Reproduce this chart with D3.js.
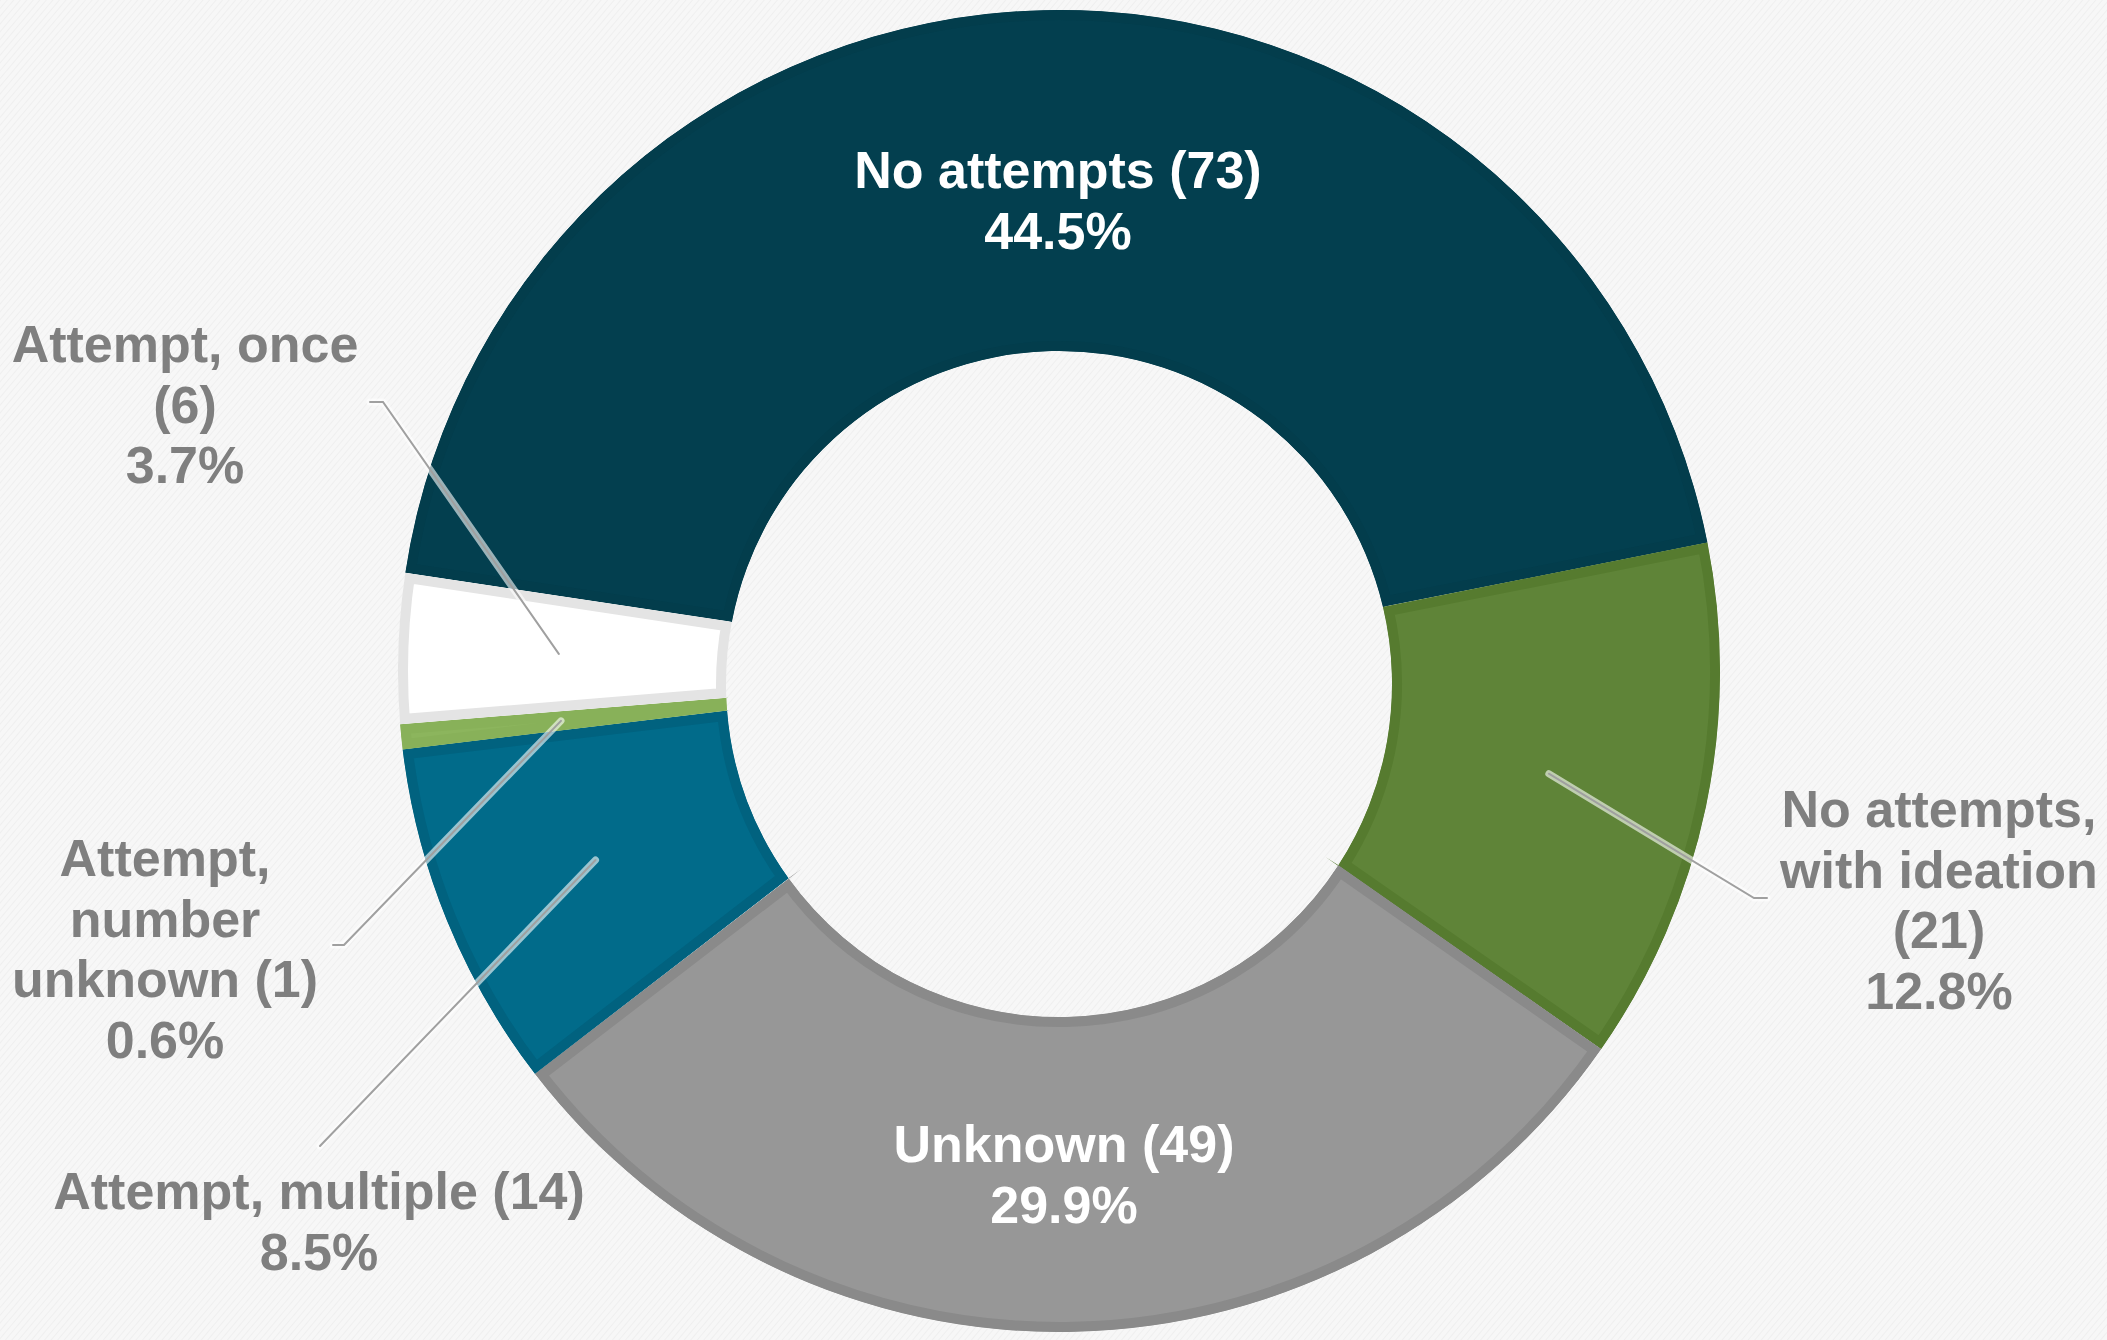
<!DOCTYPE html>
<html>
<head>
<meta charset="utf-8">
<script src="https://cdn.jsdelivr.net/npm/d3@7"></script>
<style>
  html, body { margin: 0; padding: 0; background: #f6f6f6; }
  svg { display: block; }
  text { font-family: "Liberation Sans", Arial, sans-serif; font-weight: bold; }
</style>
</head>
<body>
<div id="chart"></div>
<script>
// slices in drawing order (clockwise, starting at the "No attempts" slice)
const categories = ["No attempts", "No attempts, with ideation", "Unknown", "Attempt, multiple", "Attempt, number unknown", "Attempt, once"];
const counts = [73, 21, 49, 14, 1, 6];
const fills = ["#033f4f", "#5f8438", "#979797", "#016b8a", "#8cb55d", "#ffffff"];
const borders = ["#033d4c", "#567b2f", "#8a8a8a", "#01627f", "#88b159", "#e4e4e4"];

const width = 2107;
const height = 1340;
const cx = 1059, cy = 671, outerR = 661;
const holeDy = 13, innerR = 333;   // the hole sits a little lower than the ring centre

const total = d3.sum(counts);
const pct = d3.format(".1%");
const data = categories.map((name, i) => ({ name, count: counts[i], pct: pct(counts[i] / total), i }));

// label placement (first baseline, centre x) and leader lines
const labels = [
  { x: 1058, y: 188, color: "#fff", lines: d => [`${d.name} (${d.count})`, d.pct] },
  { x: 1939, y: 827, color: "#7f7f7f", lines: d => ["No attempts,", "with ideation", `(${d.count})`, d.pct], leader: [[1754, 898], [1767, 898]] },
  { x: 1064, y: 1162, color: "#fff", lines: d => [`${d.name} (${d.count})`, d.pct] },
  { x: 319, y: 1209, color: "#7f7f7f", lines: d => [`${d.name} (${d.count})`, d.pct], leader: [[320, 1146]] },
  { x: 165, y: 876, color: "#7f7f7f", lines: d => ["Attempt,", "number", `unknown (${d.count})`, d.pct], leader: [[344, 945], [333, 945]] },
  { x: 185, y: 362, color: "#7f7f7f", lines: d => ["Attempt, once", `(${d.count})`, d.pct], leader: [[383, 402], [370, 402]] }
];

const svg = d3.select("#chart")
  .append("svg")
  .attr("width", width)
  .attr("height", height);

const defs = svg.append("defs");

const hatch = defs.append("pattern")
  .attr("id", "hatch")
  .attr("patternUnits", "userSpaceOnUse")
  .attr("width", 5)
  .attr("height", 5)
  .attr("patternTransform", "rotate(40)");
hatch.append("rect").attr("width", 5).attr("height", 5).attr("fill", "#f7f7f7");
hatch.append("line").attr("x1", 0).attr("y1", 0).attr("x2", 0).attr("y2", 5)
  .attr("stroke", "#ebebeb").attr("stroke-width", 1.2);

svg.append("rect").attr("width", width).attr("height", height).attr("fill", "url(#hatch)");

const pie = d3.pie()
  .sort(null)
  .value(d => d.count)
  .startAngle(-81.45 * Math.PI / 180)
  .endAngle(-81.45 * Math.PI / 180 + 2 * Math.PI);

const arcs = pie(data);

// point where a ray from the ring centre at angle a meets the (offset) hole circle
const innerPoint = a => {
  const dx = Math.sin(a), dy = -Math.cos(a);
  const dw = dy * holeDy; // d . (C - H), with C - H = (0, -holeDy)
  const t = -dw + Math.sqrt(dw * dw - holeDy * holeDy + innerR * innerR);
  return [cx + t * dx, cy + t * dy];
};

const slicePath = d => {
  const p = d3.path();
  p.arc(cx, cy, outerR, d.startAngle - Math.PI / 2, d.endAngle - Math.PI / 2, false);
  const i1 = innerPoint(d.endAngle);
  const i0 = innerPoint(d.startAngle);
  p.lineTo(i1[0], i1[1]);
  p.arc(cx, cy + holeDy, innerR,
    Math.atan2(i1[1] - cy - holeDy, i1[0] - cx),
    Math.atan2(i0[1] - cy - holeDy, i0[0] - cx), true);
  p.closePath();
  return p.toString();
};

arcs.forEach((d, i) => {
  defs.append("clipPath").attr("id", "clip" + i)
    .append("path").attr("d", slicePath(d));
});

svg.append("g")
  .selectAll("path")
  .data(arcs)
  .join("path")
  .attr("d", slicePath)
  .attr("fill", d => fills[d.data.i])
  .attr("stroke", d => borders[d.data.i])
  .attr("stroke-width", 20)
  .attr("clip-path", d => `url(#clip${d.data.i})`);

// leader lines start at the middle of the ring band
const mid = d3.arc().innerRadius(innerR + 7).outerRadius(outerR);

const leaderData = arcs
  .filter(d => labels[d.data.i].leader)
  .map(d => {
    const c = mid.centroid(d);
    return [[cx + c[0], cy + c[1]], ...labels[d.data.i].leader];
  });

const leaders = svg.append("g");
leaders.selectAll("path.glow")
  .data(leaderData)
  .join("path")
  .attr("class", "glow")
  .attr("d", d3.line())
  .attr("fill", "none")
  .attr("stroke", "#ffffff")
  .attr("stroke-opacity", 0.6)
  .attr("stroke-width", 7)
  .attr("stroke-linecap", "round")
  .attr("stroke-linejoin", "round");
leaders.selectAll("path.line")
  .data(leaderData)
  .join("path")
  .attr("class", "line")
  .attr("d", d3.line())
  .attr("fill", "none")
  .attr("stroke", "#a0a0a0")
  .attr("stroke-width", 2)
  .attr("stroke-linecap", "round");

const labelGroup = svg.append("g")
  .selectAll("text")
  .data(arcs)
  .join("text")
  .attr("text-anchor", "middle")
  .attr("font-size", "52px")
  .attr("fill", d => labels[d.data.i].color)
  .attr("x", d => labels[d.data.i].x)
  .attr("y", d => labels[d.data.i].y);

labelGroup.each(function (d) {
  const lay = labels[d.data.i];
  d3.select(this).selectAll("tspan")
    .data(lay.lines(d.data))
    .join("tspan")
    .attr("x", lay.x)
    .attr("y", (s, k) => lay.y + k * 60.5)
    .text(s => s);
});
</script>
</body>
</html>
